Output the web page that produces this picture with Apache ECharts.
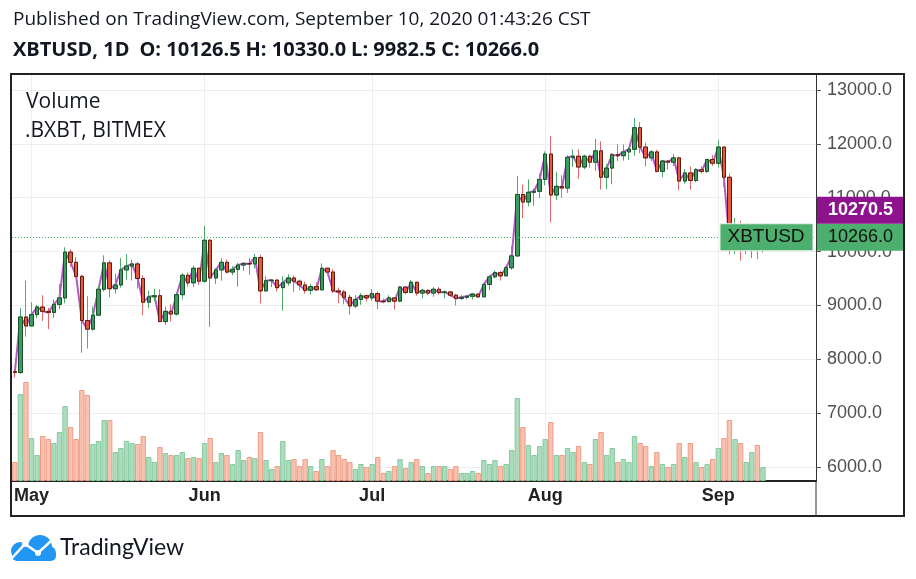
<!DOCTYPE html>
<html>
<head>
<meta charset="utf-8">
<title>XBTUSD 1D</title>
<script src="https://cdn.jsdelivr.net/npm/echarts@6/dist/echarts.min.js"></script>
<style>
  html, body { margin: 0; padding: 0; background: #fff; }
  #chart { width: 916px; height: 579px; }
</style>
</head>
<body>
<div id="chart"></div>
<script>
// XBTUSD (BitMEX) daily candles, 28 Apr 2020 .. 9 Sep 2020
const startDate = Date.UTC(2020, 3, 28)
const slotCount = 144 // days shown on the axis, the last ones stay empty
const monthNames = ['Jan', 'Feb', 'Mar', 'Apr', 'May', 'Jun', 'Jul', 'Aug', 'Sep', 'Oct', 'Nov', 'Dec']

const opens = [
  7770, 7755, 8785, // apr
  8620, 8830, 8970, 8890, 8870, 9020, 9140, 9990, 9800, 9540, 8720, 8560, 8820, 9300, 9790, 9310,
  9380, 9660, 9730, 9770, 9500, 9060, 9160, 9180, 8700, 8890, 8840, 9200, 9560, 9420, 9690, // may
  9450, 10210, 9510, 9660, 9800, 9620, 9670, 9750, 9780, 9770, 9890, 9270, 9460, 9470, 9330,
  9420, 9510, 9450, 9380, 9280, 9350, 9290, 9690, 9620, 9270, 9250, 9150, 8990, 9110, 9180, // jun
  9140, 9220, 9080, 9070, 9140, 9080, 9340, 9240, 9430, 9230, 9280, 9230, 9300, 9240, 9250,
  9190, 9130, 9150, 9170, 9210, 9160, 9390, 9530, 9610, 9550, 9700, 9920, 11060, 10920, 11100, 11120, // jul
  11340, 11810, 11050, 11210, 11180, 11750, 11770, 11570, 11770, 11660, 11870, 11380, 11550, 11800, 11780,
  11850, 11900, 12300, 11940, 11740, 11850, 11490, 11680, 11660, 11740, 11310, 11460, 11320, 11520, 11490, 11710, // aug
  11640, 11940, 11380, 10180, 10470, 10170, 10250, 10370, 10126.5 // sep
]
const highs = [
  7790, 8950, 9460,
  9060, 9010, 9190, 8955, 9110, 9400, 10080, 10040, 9900, 9570, 9170, 8980, 9370, 9930, 9840, 9590,
  9880, 9950, 9850, 9810, 9560, 9270, 9310, 9300, 8980, 9020, 9220, 9600, 9610, 9740, 9700,
  10480, 10230, 9690, 9880, 9850, 9730, 9790, 9800, 9880, 9960, 9940, 9540, 9490, 9480, 9540,
  9580, 9560, 9480, 9440, 9400, 9430, 9780, 9700, 9670, 9330, 9290, 9200, 9190, 9230, 9200,
  9300, 9260, 9130, 9190, 9150, 9360, 9360, 9470, 9440, 9310, 9300, 9340, 9340, 9280, 9270,
  9210, 9190, 9190, 9230, 9220, 9420, 9560, 9650, 9640, 9730, 10100, 11400, 11240, 11340, 11170, 11450,
  11860, 12150, 11480, 11420, 11790, 11900, 11900, 11800, 11800, 12090, 12050, 11620, 11830, 12000, 11990,
  11940, 12480, 12400, 12020, 11880, 11890, 11690, 11700, 11810, 11760, 11530, 11580, 11550, 11580, 11720, 11790,
  12070, 11950, 11450, 10620, 10570, 10350, 10400, 10440, 10330
]
const lows = [
  7660, 7730, 8420,
  8610, 8760, 8710, 8560, 8770, 8930, 9040, 9720, 9520, 8120, 8200, 8530, 8800, 9260, 9150, 9220,
  9330, 9480, 9460, 9310, 8820, 8950, 9080, 8690, 8640, 8700, 8810, 9110, 9350, 9340, 9380,
  9420, 8600, 9400, 9460, 9590, 9560, 9350, 9640, 9570, 9690, 9040, 9250, 9340, 9260, 8900,
  9370, 9250, 9280, 9220, 9200, 9280, 9280, 9560, 9230, 9040, 9020, 8830, 8950, 9010, 9070,
  9090, 8930, 9040, 9060, 8920, 9060, 9210, 9230, 9180, 9130, 9190, 9160, 9200, 9130, 9160,
  9000, 9100, 9120, 9110, 9140, 9150, 9280, 9500, 9460, 9540, 9660, 9900, 10620, 10840, 10850, 10990,
  11230, 10540, 10960, 11000, 11090, 11570, 11350, 11530, 11560, 11500, 11150, 11160, 11250, 11680, 11690,
  11700, 11780, 11830, 11580, 11680, 11470, 11380, 11520, 11590, 11140, 11260, 11150, 11290, 11450, 11460, 11590,
  11560, 11200, 9950, 9960, 9830, 9950, 9880, 9860, 9982.5
]
const closes = [
  7755, 8785, 8620,
  8830, 8970, 8890, 8870, 9020, 9140, 9990, 9800, 9540, 8720, 8560, 8820, 9300, 9790, 9310, 9380,
  9660, 9730, 9770, 9500, 9060, 9160, 9180, 8700, 8890, 8840, 9200, 9560, 9420, 9690, 9450,
  10210, 9510, 9660, 9800, 9620, 9670, 9750, 9780, 9770, 9890, 9270, 9460, 9470, 9330, 9420,
  9510, 9450, 9380, 9280, 9350, 9290, 9690, 9620, 9270, 9250, 9150, 8990, 9110, 9180, 9140,
  9220, 9080, 9070, 9140, 9080, 9340, 9240, 9430, 9230, 9280, 9230, 9300, 9240, 9250, 9190,
  9130, 9150, 9170, 9210, 9160, 9390, 9530, 9610, 9550, 9700, 9920, 11060, 10920, 11100, 11120, 11340,
  11810, 11050, 11210, 11180, 11750, 11770, 11570, 11770, 11660, 11870, 11380, 11550, 11800, 11780, 11850,
  11900, 12300, 11940, 11740, 11850, 11490, 11680, 11660, 11740, 11310, 11460, 11320, 11520, 11490, 11710, 11640,
  11940, 11380, 10180, 10470, 10170, 10250, 10370, 10126.5, 10266
]
// volume, billions of contracts
const volumes = [
  1.9, 8.7, 9.9,
  4.3, 2.6, 4.5, 4.2, 3.8, 4.9, 7.5, 5.4, 4.2, 9.1, 8.6, 3.7, 4.0, 6.1, 6.1, 2.9,
  3.3, 4.0, 3.8, 3.7, 4.5, 2.4, 1.9, 3.4, 2.8, 2.6, 2.6, 2.9, 2.3, 2.4, 2.3,
  3.8, 4.3, 1.9, 2.8, 2.6, 1.7, 3.1, 2.1, 2.4, 2.3, 4.9, 2.1, 1.2, 1.5, 4.0,
  2.1, 2.2, 1.5, 2.2, 1.5, 1.0, 2.2, 1.5, 3.1, 2.6, 2.2, 1.9, 1.2, 1.7, 1.4,
  1.7, 2.4, 0.8, 1.0, 1.5, 2.2, 1.3, 1.9, 2.2, 1.5, 0.8, 1.5, 1.5, 1.5, 1.2,
  1.5, 0.8, 0.8, 1.0, 0.8, 2.1, 1.7, 2.1, 1.5, 1.7, 3.1, 8.3, 5.4, 3.6, 2.6, 3.5,
  4.2, 5.9, 2.6, 2.6, 3.3, 2.9, 3.5, 1.9, 1.7, 4.2, 4.9, 2.6, 3.3, 1.9, 2.2,
  1.9, 4.5, 3.8, 3.5, 1.5, 2.9, 1.7, 1.4, 1.7, 3.8, 2.4, 3.8, 1.9, 1.4, 1.7, 2.2,
  3.3, 4.3, 6.1, 4.2, 3.8, 1.9, 2.9, 3.6, 1.4
]
// .BXBT index close, runs on top of the XBTUSD closes
const bxbt = [
  7755, 8785, 8620,
  8830, 8970, 8890, 8870, 9020, 9140, 9990, 9800, 9540, 8720, 8560, 8820, 9300, 9790, 9310, 9380,
  9660, 9730, 9770, 9500, 9060, 9160, 9180, 8700, 8890, 8840, 9200, 9560, 9420, 9690, 9450,
  10210, 9510, 9660, 9800, 9620, 9670, 9750, 9780, 9770, 9890, 9270, 9460, 9470, 9330, 9420,
  9510, 9450, 9380, 9280, 9350, 9290, 9690, 9620, 9270, 9250, 9150, 8990, 9110, 9180, 9140,
  9220, 9080, 9070, 9140, 9080, 9340, 9240, 9430, 9230, 9280, 9230, 9300, 9240, 9250, 9190,
  9130, 9150, 9170, 9210, 9160, 9390, 9530, 9610, 9550, 9700, 9920, 11060, 10920, 11100, 11120, 11340,
  11810, 11050, 11210, 11180, 11750, 11770, 11570, 11770, 11660, 11870, 11380, 11550, 11800, 11780, 11850,
  11900, 12300, 11940, 11740, 11850, 11490, 11680, 11660, 11740, 11310, 11460, 11320, 11520, 11490, 11710, 11640,
  11940, 11380, 10180, 10470, 10170, 10250, 10370, 10126.5, 10270.5
]
const priceTicks = { min: 6000, max: 13000, step: 1000 }

const upFill = '#3a9c5e'
const upBorder = '#1c4d2d'
const upWick = '#4caa6c'
const downFill = '#e8583a'
const downBorder = '#5e1c10'
const downWick = '#e06868'
const gridColor = '#eeeeee'
const textFont = "'Open Sans'"
const axisFont = "'Liberation Sans'"

const dates = []
for (let i = 0; i < slotCount; i++) {
  dates.push(new Date(startDate + i * 86400000).toISOString().slice(0, 10))
}
const isMonthStart = (i, v) => v.slice(8) === '01'

const candles = opens.map((o, i) => [o, closes[i], lows[i], highs[i]])
const bodies = opens.map((o, i) => [o, closes[i], Math.min(o, closes[i]), Math.max(o, closes[i])])
const volumeBars = volumes.map((v, i) => {
  const up = closes[i] >= opens[i]
  return {
    value: v,
    itemStyle: {
      color: up ? '#acdcbd' : '#f8c2b1',
      borderColor: up ? '#86cb9e' : '#f19c86',
      borderWidth: 1
    }
  }
})
const lastClose = closes[closes.length - 1]
const lastIndex = bxbt[bxbt.length - 1]

const chart = echarts.init(document.getElementById('chart'))
chart.setOption({
  animation: false,
  title: [
    {
      text: 'Published on TradingView.com, September 10, 2020 01:43:26 CST',
      left: 8,
      top: 5,
      textStyle: { fontFamily: textFont, fontSize: 19, fontWeight: 'normal', color: '#131722' }
    },
    {
      text: '{b|XBTUSD, 1D}  {b|O:}{n| 10126.5} {b|H:}{n| 10330.0} {b|L:}{n| 9982.5} {b|C:}{n| 10266.0}',
      left: 8,
      top: 35,
      textStyle: {
        rich: {
          b: { fontFamily: textFont, fontSize: 20, fontWeight: 'bold', color: '#131722' },
          n: { fontFamily: textFont, fontSize: 20, color: '#131722' }
        }
      }
    }
  ],
  grid: [
    { left: 12, right: 100, top: 90, bottom: 112 },
    { left: 12, right: 100, top: 74, bottom: 98 }
  ],
  xAxis: [
    { type: 'category', gridIndex: 0, data: dates, show: false },
    {
      type: 'category',
      gridIndex: 1,
      data: dates,
      axisLine: { lineStyle: { color: '#222', width: 2 } },
      axisTick: { alignWithLabel: true, interval: isMonthStart, length: 5, lineStyle: { color: '#222' } },
      axisLabel: {
        interval: isMonthStart,
        formatter: v => monthNames[+v.slice(5, 7) - 1],
        color: '#222',
        fontFamily: axisFont,
        fontWeight: 'bold',
        fontSize: 18,
        margin: 6
      },
      splitLine: { show: true, interval: isMonthStart, alignWithLabel: true, lineStyle: { color: gridColor } }
    }
  ],
  yAxis: [
    {
      type: 'value',
      gridIndex: 0,
      position: 'right',
      min: priceTicks.min,
      max: priceTicks.max,
      interval: priceTicks.step,
      axisLine: { show: false },
      axisTick: { show: true, length: 5, lineStyle: { color: '#555' } },
      axisLabel: {
        color: '#505050',
        fontFamily: axisFont,
        fontSize: 18,
        margin: 11,
        formatter: v => v.toFixed(1)
      },
      splitLine: { lineStyle: { color: gridColor } }
    },
    {
      type: 'value',
      gridIndex: 1,
      position: 'right',
      min: 0,
      max: 40.7,
      axisLine: { show: true, lineStyle: { color: '#333', width: 1 } },
      axisTick: { show: false },
      axisLabel: { show: false },
      splitLine: { show: false }
    }
  ],
  series: [
    {
      name: 'Volume',
      type: 'bar',
      xAxisIndex: 1,
      yAxisIndex: 1,
      barWidth: '96%',
      data: volumeBars,
      z: 1
    },
    {
      name: '.BXBT',
      type: 'line',
      xAxisIndex: 0,
      yAxisIndex: 0,
      data: bxbt,
      symbol: 'none',
      lineStyle: { color: '#ab47bc', width: 2, opacity: 0.9 },
      z: 2
    },
    {
      name: 'wicks',
      type: 'candlestick',
      xAxisIndex: 0,
      yAxisIndex: 0,
      barWidth: 4,
      data: candles,
      itemStyle: {
        color: 'transparent',
        color0: 'transparent',
        borderColor: upWick,
        borderColor0: downWick,
        borderWidth: 1
      },
      z: 3
    },
    {
      name: 'XBTUSD',
      type: 'candlestick',
      xAxisIndex: 0,
      yAxisIndex: 0,
      barWidth: 4,
      data: bodies,
      itemStyle: {
        color: upFill,
        color0: downFill,
        borderColor: upBorder,
        borderColor0: downBorder,
        borderWidth: 1
      },
      markLine: {
        silent: true,
        symbol: 'none',
        label: { show: false },
        lineStyle: { color: '#3dbb5a', type: [1, 2], width: 1.2, opacity: 1 },
        data: [{ yAxis: lastClose }]
      },
      z: 4
    }
  ]
})

// price labels on the right, placed from the axis scale
const yLast = chart.convertToPixel({ yAxisIndex: 0 }, lastClose)
const boxH = 27
chart.setOption({
  graphic: [
    {
      type: 'rect',
      shape: { x: 11, y: 74, width: 893, height: 442 },
      style: { fill: 'none', stroke: '#222', lineWidth: 2 },
      z: 100
    },
    {
      type: 'line',
      shape: { x1: 816, y1: 481, x2: 816, y2: 516 },
      style: { stroke: '#333', lineWidth: 1 },
      z: 100
    },
    {
      type: 'text',
      left: 26,
      top: 92,
      style: { text: 'Volume', font: '21px ' + textFont, fill: '#131722' }
    },
    {
      type: 'text',
      left: 25,
      top: 121,
      style: { text: '.BXBT, BITMEX', font: '21px ' + textFont, fill: '#131722' }
    },
    {
      type: 'rect',
      shape: { x: 720, y: yLast - boxH / 2, width: 93, height: boxH },
      style: { fill: '#4caf6e', stroke: '#e6f4ea', lineWidth: 1 },
      z: 50
    },
    {
      type: 'text',
      x: 766,
      y: yLast,
      style: { text: 'XBTUSD', font: '19px ' + axisFont, fill: '#111', align: 'center', verticalAlign: 'middle' },
      z: 51
    },
    {
      type: 'rect',
      shape: { x: 817, y: yLast - boxH / 2, width: 87, height: boxH },
      style: { fill: '#4caf6e' },
      z: 50
    },
    {
      type: 'text',
      x: 828,
      y: yLast,
      style: { text: lastClose.toFixed(1), font: '18px ' + axisFont, fill: '#111', verticalAlign: 'middle' },
      z: 51
    },
    {
      type: 'rect',
      shape: { x: 817, y: yLast - boxH / 2 - boxH, width: 87, height: boxH },
      style: { fill: '#8e128e' },
      z: 50
    },
    {
      type: 'text',
      x: 828,
      y: yLast - boxH,
      style: { text: lastIndex.toFixed(1), font: 'bold 18px ' + axisFont, fill: '#fff', verticalAlign: 'middle' },
      z: 51
    },
    // TradingView logo
    {
      type: 'group',
      children: [
        { type: 'circle', shape: { cx: 40, cy: 547, r: 12 }, style: { fill: '#2196f3' } },
        { type: 'circle', shape: { cx: 20, cy: 551, r: 9 }, style: { fill: '#2196f3' } },
        { type: 'circle', shape: { cx: 49, cy: 553, r: 7 }, style: { fill: '#2196f3' } },
        { type: 'rect', shape: { x: 12, y: 550, width: 44, height: 11, r: 5 }, style: { fill: '#2196f3' } },
        {
          type: 'polyline',
          shape: { points: [[12, 558], [25, 544], [38, 553], [52, 540]] },
          style: { stroke: '#fff', lineWidth: 2.5, fill: 'none' }
        },
        { type: 'circle', shape: { cx: 25, cy: 544, r: 3 }, style: { fill: '#fff' } },
        { type: 'circle', shape: { cx: 38, cy: 553, r: 3 }, style: { fill: '#fff' } }
      ]
    },
    {
      type: 'text',
      x: 60,
      y: 548,
      style: { text: 'TradingView', font: '23px Lato', fill: '#131722', verticalAlign: 'middle' }
    }
  ]
})
</script>
</body>
</html>
